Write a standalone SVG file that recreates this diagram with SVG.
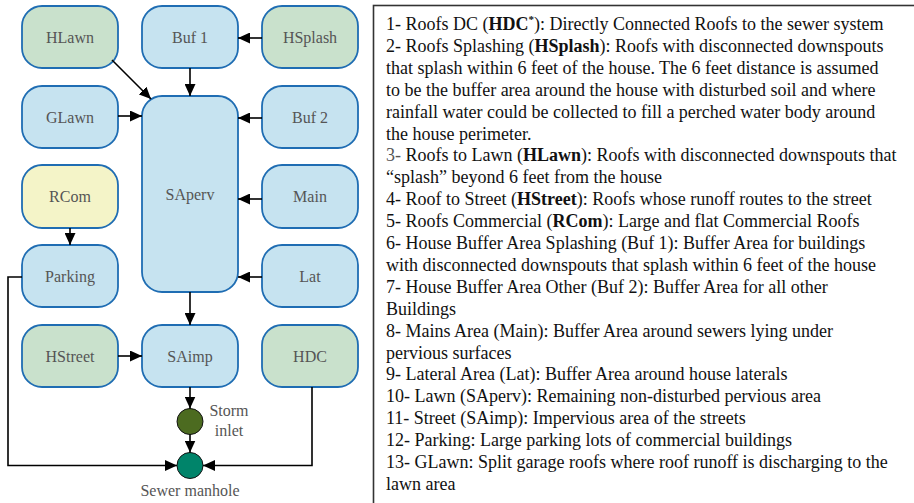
<svg xmlns="http://www.w3.org/2000/svg" width="914" height="503" viewBox="0 0 914 503">
<style>
.n rect{stroke:#1f6db3;stroke-width:1.8}
.blue{fill:#c6e3f0}
.green{fill:#c9e1cc}
.yellow{fill:#f4f4c8}
.nt{font-family:"Liberation Serif","Times New Roman",serif;font-size:16px;fill:#555;text-anchor:middle}
.c line,.c polyline{stroke:#000;stroke-width:1.6;fill:none;marker-end:url(#ah)}
.lg{font-family:"Liberation Serif","Times New Roman",serif;font-size:18px;fill:#111}
.b{font-weight:bold}
</style>
<defs>
<marker id="ah" markerUnits="userSpaceOnUse" markerWidth="12" markerHeight="11" refX="12" refY="5.5" orient="auto">
<path d="M0,0 L12,5.5 L0,11 z" fill="#000"/>
</marker>
</defs>
<rect width="914" height="503" fill="#fff"/>

<g id="HLawn" class="n"><rect class="green" x="22" y="6" width="96" height="62" rx="20"/><text class="nt" x="70" y="42.5">HLawn</text></g>
<g id="Buf1" class="n"><rect class="blue" x="142" y="6" width="96" height="62" rx="20"/><text class="nt" x="190" y="42.5">Buf 1</text></g>
<g id="HSplash" class="n"><rect class="green" x="262" y="6" width="96" height="62" rx="20"/><text class="nt" x="310" y="42.5">HSplash</text></g>
<g id="GLawn" class="n"><rect class="blue" x="22" y="86" width="96" height="62" rx="20"/><text class="nt" x="70" y="122.5">GLawn</text></g>
<g id="SAperv" class="n"><rect class="blue" x="142" y="96" width="96" height="196" rx="20"/><text class="nt" x="190" y="199.5">SAperv</text></g>
<g id="Buf2" class="n"><rect class="blue" x="262" y="86" width="96" height="62" rx="20"/><text class="nt" x="310" y="122.5">Buf 2</text></g>
<g id="RCom" class="n"><rect class="yellow" x="22" y="165" width="96" height="63" rx="20"/><text class="nt" x="70" y="201.5">RCom</text></g>
<g id="Main" class="n"><rect class="blue" x="262" y="165" width="96" height="63" rx="20"/><text class="nt" x="310" y="201.5">Main</text></g>
<g id="Parking" class="n"><rect class="blue" x="22" y="245" width="96" height="62" rx="20"/><text class="nt" x="70" y="281.5">Parking</text></g>
<g id="Lat" class="n"><rect class="blue" x="262" y="245" width="96" height="62" rx="20"/><text class="nt" x="310" y="281.5">Lat</text></g>
<g id="HStreet" class="n"><rect class="green" x="22" y="325" width="96" height="62" rx="20"/><text class="nt" x="70" y="361.5">HStreet</text></g>
<g id="SAimp" class="n"><rect class="blue" x="142" y="325" width="96" height="62" rx="20"/><text class="nt" x="190" y="361.5">SAimp</text></g>
<g id="HDC" class="n"><rect class="green" x="262" y="325" width="96" height="62" rx="20"/><text class="nt" x="310" y="361.5">HDC</text></g>
<g id="StormInlet"><circle cx="190" cy="421.5" r="13" fill="#4c6b20" stroke="#111" stroke-width="1"/><text class="nt" x="229" y="416">Storm</text><text class="nt" x="229" y="436">inlet</text></g>
<g id="SewerManhole"><circle cx="190" cy="465.5" r="13" fill="#00846a" stroke="#111" stroke-width="1"/><text class="nt" x="190" y="496">Sewer manhole</text></g>

<g id="connectors" class="c">
<line x1="112" y1="60" x2="151" y2="99"/>
<line x1="190" y1="68" x2="190" y2="96"/>
<line x1="262" y1="38" x2="238" y2="38"/>
<line x1="118" y1="116" x2="142" y2="116"/>
<line x1="262" y1="118" x2="238" y2="118"/>
<line x1="262" y1="199" x2="238" y2="199"/>
<line x1="262" y1="277" x2="238" y2="277"/>
<line x1="70" y1="228" x2="70" y2="245"/>
<line x1="190" y1="292" x2="190" y2="325"/>
<line x1="118" y1="356" x2="142" y2="356"/>
<line x1="190" y1="387" x2="190" y2="408.5"/>
<line x1="190" y1="434.5" x2="190" y2="452.5"/>
<polyline points="22,277 8,277 8,465.5 177,465.5"/>
<polyline points="312,387 312,465.5 203,465.5"/>
</g>

<g id="legend">
<rect x="373.5" y="5.5" width="600" height="600" fill="none" stroke="#333" stroke-width="1.6"/>
<text class="lg" x="386" y="30">1- Roofs DC (<tspan class="b">HDC</tspan><tspan class="b" font-size="11" dy="-7">*</tspan><tspan dy="7">): Directly Connected Roofs to the sewer system</tspan></text>
<text class="lg" x="386" y="51.9">2- Roofs Splashing (<tspan class="b">HSplash</tspan>): Roofs with disconnected downspouts</text>
<text class="lg" x="386" y="73.8">that splash within 6 feet of the house. The 6 feet distance is assumed</text>
<text class="lg" x="386" y="95.7">to be the buffer area around the house with disturbed soil and where</text>
<text class="lg" x="386" y="117.6">rainfall water could be collected to fill a perched water body around</text>
<text class="lg" x="386" y="139.5">the house perimeter.</text>
<text class="lg" x="386" y="161.4"><tspan fill="#555">3-</tspan> Roofs to Lawn (<tspan class="b">HLawn</tspan>): Roofs with disconnected downspouts that</text>
<text class="lg" x="386" y="183.3">“splash” beyond 6 feet from the house</text>
<text class="lg" x="386" y="205.2">4- Roof to Street (<tspan class="b">HStreet</tspan>): Roofs whose runoff routes to the street</text>
<text class="lg" x="386" y="227.1">5- Roofs Commercial (<tspan class="b">RCom</tspan>): Large and flat Commercial Roofs</text>
<text class="lg" x="386" y="249">6- House Buffer Area Splashing (Buf 1): Buffer Area for buildings</text>
<text class="lg" x="386" y="270.9">with disconnected downspouts that splash within 6 feet of the house</text>
<text class="lg" x="386" y="292.8">7- House Buffer Area Other (Buf 2): Buffer Area for all other</text>
<text class="lg" x="386" y="314.7">Buildings</text>
<text class="lg" x="386" y="336.6">8- Mains Area (Main): Buffer Area around sewers lying under</text>
<text class="lg" x="386" y="358.5">pervious surfaces</text>
<text class="lg" x="386" y="380.4">9- Lateral Area (Lat): Buffer Area around house laterals</text>
<text class="lg" x="386" y="402.3">10- Lawn (SAperv): Remaining non-disturbed pervious area</text>
<text class="lg" x="386" y="424.2">11- Street (SAimp): Impervious area of the streets</text>
<text class="lg" x="386" y="446.1">12- Parking: Large parking lots of commercial buildings</text>
<text class="lg" x="386" y="468">13- GLawn: Split garage roofs where roof runoff is discharging to the</text>
<text class="lg" x="386" y="489.9">lawn area</text>
</g>
</svg>
